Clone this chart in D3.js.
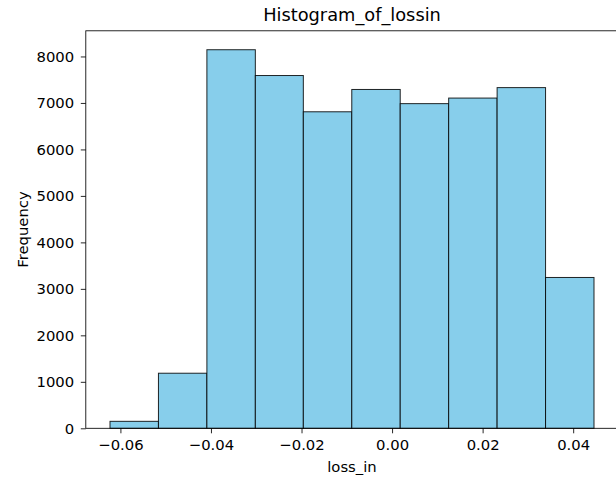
<!DOCTYPE html>
<html>
<head>
<meta charset="utf-8">
<script src="https://cdn.jsdelivr.net/npm/d3@7"></script>
<style>
  html, body { margin: 0; padding: 0; background: #fff; }
  text { font-family: "DejaVu Sans", sans-serif; fill: #000; }
</style>
</head>
<body>
<svg id="chart" width="616" height="478"></svg>
<script>
// ---- data ----
const binEdges = [-0.0623, -0.0516, -0.0409, -0.0302, -0.0196, -0.0089, 0.0018, 0.0125, 0.0232, 0.0339, 0.0446];
const counts = [150, 1185, 8145, 7590, 6810, 7290, 6985, 7105, 7330, 3245];
const xTicks = [-0.06, -0.04, -0.02, 0.00, 0.02, 0.04];
const yTicks = [0, 1000, 2000, 3000, 4000, 5000, 6000, 7000, 8000];
const title = "Histogram_of_lossin";
const xLabel = "loss_in";
const yLabel = "Frequency";

// ---- layout ----
const svg = d3.select("#chart");
const L = 85.8, R = 618.2, T = 30.8, B = 428.3;
const span = binEdges[binEdges.length - 1] - binEdges[0];
const x = d3.scaleLinear()
  .domain([binEdges[0] - span * 0.05, binEdges[binEdges.length - 1] + span * 0.05])
  .range([L, R]);
const y = d3.scaleLinear()
  .domain([0, d3.max(counts) * 1.05])
  .range([B, T]);

const bins = counts.map((c, i) => ({ x0: binEdges[i], x1: binEdges[i + 1], c }));

svg.append("g").selectAll("rect").data(bins).join("rect")
  .attr("x", d => x(d.x0))
  .attr("y", d => y(d.c))
  .attr("width", d => x(d.x1) - x(d.x0))
  .attr("height", d => y(0) - y(d.c))
  .attr("fill", "#87CEEB")
  .attr("stroke", "#000")
  .attr("stroke-opacity", 0.85)
  .attr("stroke-width", 1);

// spines
svg.append("rect")
  .attr("x", L).attr("y", T).attr("width", R - L).attr("height", B - T)
  .attr("fill", "none").attr("stroke", "#000").attr("stroke-width", 0.85);

const fs = 14.8;
const tickLen = 5;

// x axis
const xAxis = d3.axisBottom(x).tickValues(xTicks)
  .tickFormat(d => d3.format(".2f")(d).replace("-", "\u2212"))
  .tickSize(tickLen).tickPadding(6.4);
const gx = svg.append("g").attr("transform", `translate(0,${B})`).call(xAxis);
gx.select(".domain").remove();
gx.selectAll(".tick line").attr("stroke", "#000").attr("stroke-width", 0.85);
gx.selectAll(".tick text").attr("font-size", fs).attr("font-family", "DejaVu Sans").attr("fill", "#000");

// y axis
const yAxis = d3.axisLeft(y).tickValues(yTicks).tickFormat(d3.format("d"))
  .tickSize(tickLen).tickPadding(6.6);
const gy = svg.append("g").attr("transform", `translate(${L},0)`).call(yAxis);
gy.select(".domain").remove();
gy.selectAll(".tick line").attr("stroke", "#000").attr("stroke-width", 0.85);
gy.selectAll(".tick text").attr("font-size", fs).attr("font-family", "DejaVu Sans").attr("fill", "#000");

// labels
svg.append("text").attr("x", (L + R) / 2).attr("y", 21.3)
  .attr("text-anchor", "middle").attr("font-size", 17.8).text(title);
svg.append("text").attr("x", (L + R) / 2).attr("y", 471.9)
  .attr("text-anchor", "middle").attr("font-size", fs).text(xLabel);
svg.append("text").attr("transform", `translate(28.1,${(T + B) / 2}) rotate(-90)`)
  .attr("text-anchor", "middle").attr("font-size", fs).text(yLabel);
</script>
</body>
</html>
